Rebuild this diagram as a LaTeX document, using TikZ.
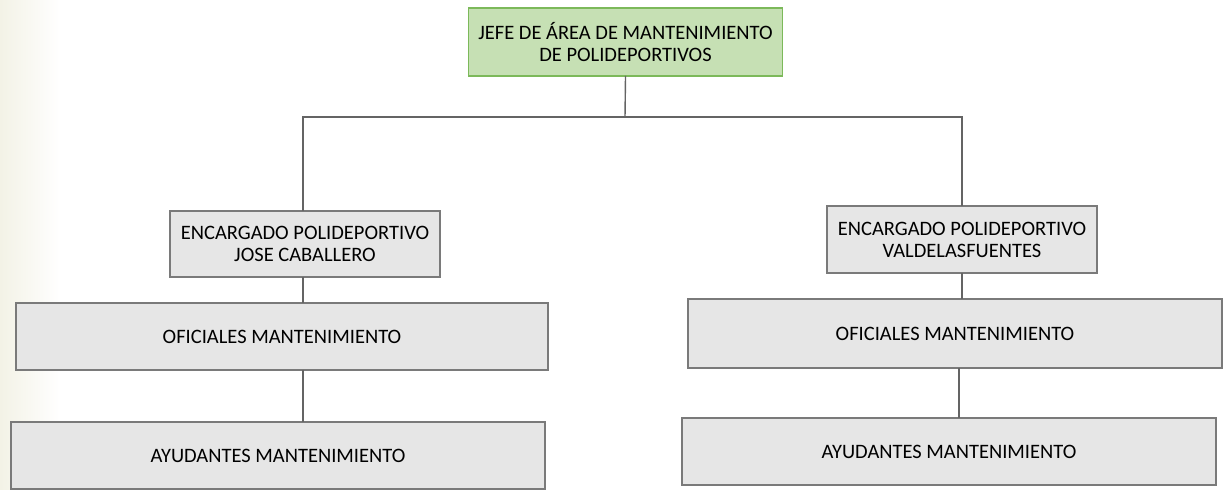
\documentclass[tikz,border=0pt]{standalone}
\usepackage{fontspec}
\setmainfont{Carlito}
\usepackage{tikz}
\usetikzlibrary{positioning}
\usepackage{xcolor}
\definecolor{JefeVerde}{HTML}{C6E0B4}
\definecolor{JefeBorde}{HTML}{7CB95A}
\definecolor{CajaGris}{HTML}{E6E6E6}
\definecolor{BordeGris}{HTML}{7A7A7A}
\definecolor{LineaGris}{HTML}{646464}
\definecolor{FondoCrema}{HTML}{F3F2E6}

\tikzset{
  caja/.style={draw=BordeGris, fill=CajaGris, line width=0.75pt, inner sep=0pt, outer sep=0pt,
    align=center, font=\fontsize{10.25}{11}\selectfont},
  linea/.style={draw=LineaGris, line width=0.7pt}
}

\begin{document}
\begin{tikzpicture}[x=0.5pt, y=-0.5pt]
            \useasboundingbox (0,0) rectangle (1224,490);
            % faint background on the left edge
            \shade[left color=FondoCrema, right color=white] (0,0) rectangle (60,490);

            % Head
            \node[caja, fill=JefeVerde, draw=JefeBorde, minimum width=157pt, minimum height=34pt] (jefe) at (625.5,42) {JEFE DE ÁREA DE MANTENIMIENTO\\DE POLIDEPORTIVOS};

            % Two managers
            \node[caja, minimum width=135pt, minimum height=33pt] (encJose) at (305,244) {ENCARGADO POLIDEPORTIVO\\JOSE CABALLERO};
            \node[caja, minimum width=135pt, minimum height=33.5pt] (encValde) at (962,239.5) {ENCARGADO POLIDEPORTIVO\\VALDELASFUENTES};

            % Staff
            \node[caja, minimum width=266pt, minimum height=33.5pt] (ofiJose) at (282,336.5) {OFICIALES MANTENIMIENTO};
            \node[caja, minimum width=267pt, minimum height=33.5pt] (ayuJose) at (278,455.5) {AYUDANTES MANTENIMIENTO};
            \node[caja, minimum width=267pt, minimum height=34.5pt] (ofiValde) at (955,333.5) {OFICIALES MANTENIMIENTO};
            \node[caja, minimum width=267pt, minimum height=33.5pt] (ayuValde) at (949,451.5) {AYUDANTES MANTENIMIENTO};

            % Lines
            \coordinate (barra) at (625,117);
            \draw[linea] (jefe.south) -- (barra);
            \draw[linea] ([xshift=-1pt]encJose.north) |- (barra) -| (encValde.north);
            \draw[linea] ([xshift=-1pt]encJose.south) -- ([xshift=-1pt]encJose.south |- ofiJose.north);
            \draw[linea] ([xshift=-1pt]encJose.south |- ofiJose.south) -- ([xshift=-1pt]encJose.south |- ayuJose.north);
            \draw[linea] (encValde.south) -- (encValde.south |- ofiValde.north);
            \draw[linea] ([xshift=-1.5pt]encValde.south |- ofiValde.south) -- ([xshift=-1.5pt]encValde.south |- ayuValde.north);
        \end{tikzpicture}
\end{document}
